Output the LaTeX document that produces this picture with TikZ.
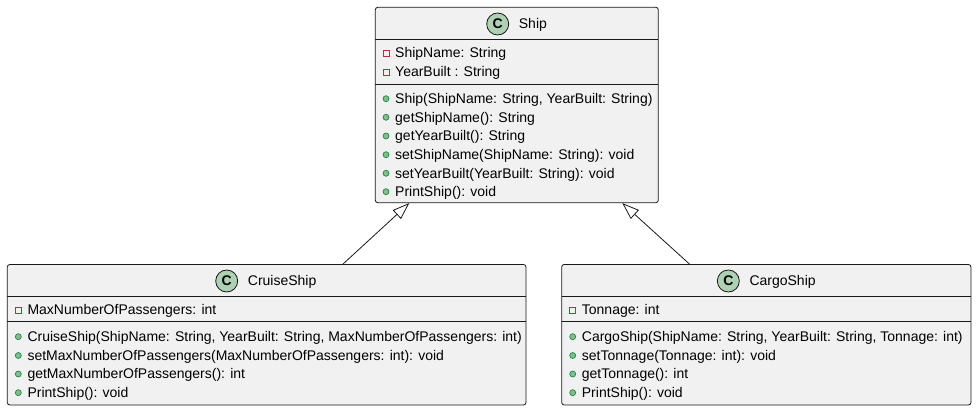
\documentclass[tikz,border=0pt]{standalone}
\usepackage{fontspec}
\setmainfont{Liberation Sans}
\usetikzlibrary{arrows.meta}
\definecolor{umlfill}{HTML}{F1F1F1}
\definecolor{umlline}{HTML}{181818}
\definecolor{umlclass}{HTML}{ADD1B2}
\definecolor{umlpub}{HTML}{84BE84}
\definecolor{umlpubline}{HTML}{038048}
\definecolor{umlpriv}{HTML}{C82930}
\tikzset{
	classbox/.style={draw=umlline, fill=umlfill, rounded corners=2.5pt, line width=0.8pt, inner sep=0pt},
	sepline/.style={draw=umlline, line width=0.8pt},
	member/.style={anchor=base west, inner sep=0pt, font=\fontsize{14}{16}\selectfont},
	classicon/.style={draw=umlline, fill=umlclass, line width=0.8pt},
	privicon/.style={draw=umlpriv, line width=0.7pt},
	pubicon/.style={draw=umlpubline, fill=umlpub, line width=0.6pt},
	inherit/.style={draw=umlline, line width=0.8pt, -{Triangle[open, length=17pt, width=12pt]}}
}
\def\classhead(#1,#2)#3#4{\draw[classicon] (#1, #2) circle (11pt); \node[font=\bfseries\fontsize{14}{14}\selectfont, inner sep=0pt] (#3-c) at (#1, #2) {C}; \node[member] (#3-name) at (#1+21, #2+5) {#4};}
\def\privfield(#1,#2)#3#4{\draw[privicon] (#1-3, #2-3) rectangle (#1+3, #2+3); \node[member] (#3) at (#1+9, #2+5) {#4};}
\def\pubmethod(#1,#2)#3#4{\draw[pubicon] (#1, #2) circle (3pt); \node[member] (#3) at (#1+9, #2+5) {#4};}

\begin{document}
\begin{tikzpicture}[x=1pt, y=-1pt]
			%%%%% START %%%%%
			\useasboundingbox (0, 0) rectangle (977, 411);
			
			\node[classbox, minimum width=283pt, minimum height=195.4pt] (ship) at (516.8, 105) {};
			\node[classbox, minimum width=518.7pt, minimum height=140.5pt] (cruise) at (266.65, 334.75) {};
			\node[classbox, minimum width=409.3pt, minimum height=140.5pt] (cargo) at (766.3, 334.75) {};
			
			% Ship
			\classhead(497.7, 24){ship}{Ship}
			\draw[sepline] (375.3, 39) -- (658.3, 39);
			\privfield(386, 53){ship-f1}{ShipName: String}
			\privfield(386, 72){ship-f2}{YearBuilt : String}
			\draw[sepline] (375.3, 84) -- (658.3, 84);
			\pubmethod(386, 98.7){ship-m1}{Ship(ShipName: String, YearBuilt: String)}
			\pubmethod(386, 117.3){ship-m2}{getShipName(): String}
			\pubmethod(386, 136){ship-m3}{getYearBuilt(): String}
			\pubmethod(386, 154.7){ship-m4}{setShipName(ShipName: String): void}
			\pubmethod(386, 173.3){ship-m5}{setYearBuilt(YearBuilt: String): void}
			\pubmethod(386, 191.7){ship-m6}{PrintShip(): void}
			
			% CruiseShip
			\classhead(226.7, 281){cruise}{CruiseShip}
			\draw[sepline] (7.3, 296.7) -- (526, 296.7);
			\privfield(18.3, 310){cruise-f1}{MaxNumberOfPassengers: int}
			\draw[sepline] (7.3, 321.7) -- (526, 321.7);
			\pubmethod(18.3, 336.7){cruise-m1}{CruiseShip(ShipName: String, YearBuilt: String, MaxNumberOfPassengers: int)}
			\pubmethod(18.3, 355.5){cruise-m2}{setMaxNumberOfPassengers(MaxNumberOfPassengers: int): void}
			\pubmethod(18.3, 374){cruise-m3}{getMaxNumberOfPassengers(): int}
			\pubmethod(18.3, 392.7){cruise-m4}{PrintShip(): void}
			
			% CargoShip
			\classhead(728.3, 281){cargo}{CargoShip}
			\draw[sepline] (561.7, 296.7) -- (971, 296.7);
			\privfield(572.7, 310){cargo-f1}{Tonnage: int}
			\draw[sepline] (561.7, 321.7) -- (971, 321.7);
			\pubmethod(572.7, 336.7){cargo-m1}{CargoShip(ShipName: String, YearBuilt: String, Tonnage: int)}
			\pubmethod(572.7, 355.5){cargo-m2}{setTonnage(Tonnage: int): void}
			\pubmethod(572.7, 374){cargo-m3}{getTonnage(): int}
			\pubmethod(572.7, 392.7){cargo-m4}{PrintShip(): void}
			
			\draw[inherit] ([xshift=76.3pt]cruise.north) -- ([xshift=-107.5pt]ship.south);
			\draw[inherit] ([xshift=-76.8pt]cargo.north) -- ([xshift=105.5pt]ship.south);
			
			%%%%% END %%%%%
\end{tikzpicture}
\end{document}
